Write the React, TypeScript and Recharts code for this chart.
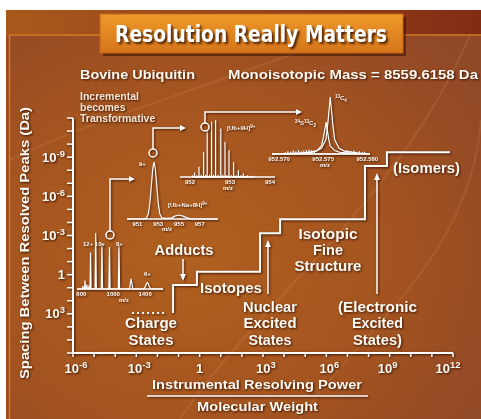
import React from 'react';
import { LineChart, Line, XAxis, YAxis } from 'recharts';

const FONT = '"Liberation Sans", Arial, Helvetica, sans-serif';
const INK = '#fffaf2';
const SHADOW = 'drop-shadow(1px 1.5px 1px rgba(45,12,0,0.85))';

// main plot, both axes in log10 exponents
const xTicks = [-6, -5, -4, -3, -2, -1, 0, 1, 2, 3, 4, 5, 6, 7, 8, 9, 10, 11, 12];
const yTicks = [-12, -11, -10, -9, -8, -7, -6, -5, -4, -3, -2, -1, 0, 1, 2, 3, 4, 5, 6];

// charge states (dotted) and the resolution staircase
const chargeX = [-3.2, -1.55];
const chargeY = [2.94, 2.94];
const stairX = [-1.26, -1.26, -0.13, -0.13, 2.86, 2.86, 3.81, 3.81, 7.83, 7.83, 8.87, 8.87, 11.86];
const stairY = [2.94, 0.79, 0.79, -0.23, -0.23, -3.17, -3.17, -4.24, -4.24, -8.32, -8.32, -9.37, -9.37];

// inset 1: charge state envelope, m/z 600-1400
const csMz = [545, 612, 620, 626, 640, 646, 652, 664, 670, 676, 690, 696, 702, 708, 715, 722, 772, 780, 788, 850, 858, 866, 945, 953, 961, 1064, 1072, 1080, 1205, 1215, 1225, 1235, 1245, 1385, 1405, 1418, 1428, 1438, 1451, 1470, 1625];
const csInt = [0, 0, 5, 0, 0, 15, 0, 0, 8, 0, 0, 6, 0, 0, 65, 0, 0, 100, 0, 0, 82, 0, 0, 75, 0, 0, 78, 0, 0, 10, 18, 10, 0, 0, 5, 10, 11, 10, 5, 0, 0];
const csTicks = [600, 1000, 1400];

// inset 2: 9+ ion at unit resolution
const hrMz = [950, 951.5, 951.85, 952.05, 952.2, 952.35, 952.48, 952.6, 952.72, 952.85, 953.0, 953.15, 953.35, 953.8, 954.3, 954.6, 955.0, 955.4, 955.8, 956.3, 958.75];
const hrInt = [0, 0, 1, 9, 28, 61, 89, 100, 89, 61, 28, 9, 2, 1, 2, 5, 7, 5, 2, 0, 0];
const hrTicks = [951, 953, 955, 957];

// inset 3: isotope distribution of [Ub+9H]9+
const isoMz = [952.115, 952.225, 952.34, 952.43, 952.54, 952.64, 952.77, 952.875, 952.975, 953.09, 953.21, 953.33, 953.44];
const isoInt = [8, 18, 44, 82, 97, 100, 85, 62, 47, 26, 12, 6, 3];
const isoGrassMz = [952.06, 952.17, 952.28, 952.39, 952.49, 952.59, 952.7, 952.82, 952.92, 953.03, 953.15, 953.27, 953.38, 953.5, 953.6];
const isoGrassInt = [3, 3, 4, 4, 4, 4, 4, 4, 3, 3, 3, 3, 2, 2, 2];
const isoTicks = [952, 953, 954];

// inset 4: isotopic fine structure
const fsMzA = [952.5692, 952.5728, 952.5742, 952.5748, 952.5753, 952.5755, 952.5758, 952.5761, 952.5763, 952.5768, 952.5774, 952.5788, 952.5803];
const fsIntA = [0, 2, 5, 10, 25, 50, 100, 50, 25, 10, 5, 2, 0];
const fsMzB = [952.5692, 952.5723, 952.5737, 952.5743, 952.5748, 952.575, 952.57534, 952.5756, 952.5758, 952.5763, 952.5769, 952.5783, 952.5803];
const fsIntB = [0, 1, 3, 6, 14, 28, 56, 28, 14, 6, 3, 1, 0];
const fsGrassMz = [952.5707, 952.571, 952.5713, 952.5716, 952.5719, 952.5722, 952.5725, 952.5728, 952.5731, 952.5734, 952.5737, 952.574, 952.5776, 952.5779, 952.5782, 952.5785, 952.5788, 952.5791, 952.5794, 952.5797];
const fsGrassInt = [3, 5, 4, 6, 5, 7, 5, 6, 7, 8, 7, 6, 7, 6, 5, 6, 4, 5, 3, 4];
const fsTicks = [952.57, 952.575, 952.58];

const zip = (xs: number[], ys: number[]) => xs.map((x, i) => ({ x, y: ys[i] }));
const sticks = (xs: number[], ys: number[]) =>
  xs.flatMap((x, i) => [{ x, y: 0 }, { x, y: ys[i] }, { x, y: 0 }]);

const pow = (v: number) =>
  v === 0 ? '1' : (
    <>
      10<tspan dy={-5} fontSize={9.5}>{v}</tspan>
    </>
  );

function XTick(props: any) {
  const { x, y, payload } = props;
  const v = payload.value;
  if (v % 3 !== 0) return null;
  const dx = v === 12 ? -5 : v === 9 ? -2 : v === 0 ? 0 : 3;
  return (
    <text x={x + dx} y={y + 14} textAnchor="middle" fill={INK} fontFamily={FONT} fontWeight="bold" fontSize={13}>
      {pow(v)}
    </text>
  );
}

function YTick(props: any) {
  const { x, y, payload } = props;
  const v = payload.value;
  if (v % 3 !== 0 || v === -12 || v === 6) return null;
  return (
    <text x={x} y={y + 4.5} textAnchor="end" fill={INK} fontFamily={FONT} fontWeight="bold" fontSize={13}>
      {pow(v)}
    </text>
  );
}

type InsetProps = {
  left: number;
  top: number;
  w: number;
  h: number;
  domain: [number, number];
  ticks: number[];
  fmt: (v: number) => string;
  series: { x: number; y: number }[][];
};

function Inset({ left, top, w, h, domain, ticks, fmt, series }: InsetProps) {
  const padL = 16, padR = 16, padT = 4, axisH = 16;
  return (
    <div style={{ position: 'absolute', left: left - padL, top: top - padT, filter: SHADOW }}>
      <LineChart width={w + padL + padR} height={h + padT + axisH} margin={{ top: padT, left: padL, right: padR, bottom: 0 }}>
        <XAxis
          type="number"
          dataKey="x"
          domain={domain}
          ticks={ticks}
          interval={0}
          height={axisH}
          axisLine={{ stroke: '#fff', strokeWidth: 1.4 }}
          tickLine={false}
          tickSize={0}
          tick={(p: any) => (
            <text x={p.x} y={p.y + 5} textAnchor="middle" fill={INK} fontFamily={FONT} fontWeight="bold" fontSize={6}>
              {fmt(p.payload.value)}
            </text>
          )}
        />
        <YAxis hide type="number" domain={[0, 100]} />
        {series.map((d, i) => (
          <Line key={i} data={d} dataKey="y" type="linear" stroke="#fff" strokeWidth={1.2} dot={false} isAnimationActive={false} />
        ))}
      </LineChart>
    </div>
  );
}

function Arrow({ d, tip, dir }: { d: string; tip: [number, number]; dir: 'r' | 'u' | 'd' }) {
  const [x, y] = tip;
  const pts =
    dir === 'r' ? `${x},${y} ${x - 6},${y - 3} ${x - 6},${y + 3}` :
    dir === 'u' ? `${x},${y} ${x - 3},${y + 7} ${x + 3},${y + 7}` :
    `${x},${y} ${x - 3},${y - 7} ${x + 3},${y - 7}`;
  return (
    <g>
      <path d={d} fill="none" stroke="#fff" strokeWidth={1.5} />
      <polygon points={pts} fill="#fff" />
    </g>
  );
}

function Lines({ x, ys, lines, size = 14, len }: { x: number; ys: number[]; lines: string[]; size?: number; len?: number[] }) {
  return (
    <>
      {lines.map((s, i) => (
        <text key={i} x={x} y={ys[i]} textAnchor="middle" fontSize={size} textLength={len ? len[i] : undefined} lengthAdjust="spacingAndGlyphs">
          {s}
        </text>
      ))}
    </>
  );
}

export default function App() {
  return (
    <div style={{ position: 'absolute', left: 0, top: 0, width: 481, height: 419, overflow: 'hidden', background: '#fff' }}>
      <svg width={481} height={419} style={{ position: 'absolute', left: 0, top: 0 }}>
        <defs>
          <radialGradient id="bg" cx="38%" cy="60%" r="75%">
            <stop offset="0%" stopColor="#b0601f" />
            <stop offset="55%" stopColor="#a4541f" />
            <stop offset="100%" stopColor="#914827" />
          </radialGradient>
          <linearGradient id="band" x1="0" y1="0" x2="1" y2="0">
            <stop offset="0%" stopColor="#a9581c" />
            <stop offset="60%" stopColor="#94401a" />
            <stop offset="100%" stopColor="#822c14" />
          </linearGradient>
          <linearGradient id="title" x1="0" y1="0" x2="0" y2="1">
            <stop offset="0%" stopColor="#ee9a2a" />
            <stop offset="100%" stopColor="#d5741a" />
          </linearGradient>
        </defs>
        <rect x={6} y={10} width={475} height={409} fill="url(#bg)" />
        <rect x={6} y={10} width={475} height={25} fill="url(#band)" />
        <rect x={6} y={35} width={4} height={384} fill="#9a4a1c" />
        <line x1={9.5} y1={35} x2={481} y2={35} stroke="#d67a2a" strokeWidth={1.5} />
        <line x1={9.5} y1={35} x2={9.5} y2={419} stroke="#d67a2a" strokeWidth={1.5} />
        <g fill="none" stroke="#f6c08a" strokeOpacity={0.12} strokeWidth={2}>
          <path d="M 300 419 C 360 330, 470 260, 481 120" />
          <path d="M 180 419 C 260 300, 400 200, 470 35" />
          <path d="M 10 160 C 90 120, 200 90, 330 40" />
        </g>
        <rect x={103} y={17} width={303} height={39} fill="rgba(50,15,0,0.55)" />
        <rect x={100} y={14} width={303} height={39} fill="url(#title)" stroke="#c2661a" strokeWidth={1} />
        <text
          x={251}
          y={42}
          fill="#fff"
          textAnchor="middle"
          fontFamily='"DejaVu Sans Condensed", "DejaVu Sans", sans-serif'
          fontWeight="bold"
          fontSize={23.5}
          textLength={272}
          lengthAdjust="spacingAndGlyphs"
          style={{ fontStretch: 'condensed', filter: 'drop-shadow(2px 2px 1px rgba(40,10,0,0.8))' }}
        >
          Resolution Really Matters
        </text>
      </svg>

      <div style={{ position: 'absolute', left: 0, top: 0, filter: SHADOW }}>
        <LineChart width={481} height={419} margin={{ top: 118, right: 28, bottom: 36, left: 33 }}>
          <XAxis
            type="number"
            dataKey="x"
            domain={[-6, 12]}
            ticks={xTicks}
            interval={0}
            height={30}
            axisLine={{ stroke: '#fff', strokeWidth: 2 }}
            tickLine={{ stroke: '#fff', strokeWidth: 1.5 }}
            tickSize={4}
            tick={(p: any) => <XTick {...p} />}
          />
          <YAxis
            type="number"
            dataKey="y"
            domain={[-12, 6]}
            reversed
            ticks={yTicks}
            interval={0}
            width={40}
            axisLine={{ stroke: '#fff', strokeWidth: 2 }}
            tickLine={{ stroke: '#fff', strokeWidth: 1.5 }}
            tickSize={6}
            tick={(p: any) => <YTick {...p} />}
          />
          <Line data={zip(chargeX, chargeY)} dataKey="y" type="linear" stroke="#fff" strokeWidth={2} strokeDasharray="2 3" dot={false} isAnimationActive={false} />
          <Line data={zip(stairX, stairY)} dataKey="y" type="linear" stroke="#fff" strokeWidth={2} dot={false} isAnimationActive={false} />
        </LineChart>
      </div>

      <Inset left={77} top={233} w={86} h={56} domain={[545, 1625]} ticks={csTicks} fmt={(v) => String(v)} series={[zip(csMz, csInt)]} />
      <Inset left={127} top={162} w={91} h={57} domain={[950, 958.75]} ticks={hrTicks} fmt={(v) => String(v)} series={[zip(hrMz, hrInt)]} />
      <Inset left={180} top={120} w={95} h={57} domain={[951.75, 954.125]} ticks={isoTicks} fmt={(v) => String(v)} series={[sticks(isoGrassMz, isoGrassInt), sticks(isoMz, isoInt)]} />
      <Inset left={272} top={97} w={98} h={57} domain={[952.5692, 952.5803]} ticks={fsTicks} fmt={(v) => v.toFixed(3)} series={[sticks(fsGrassMz, fsGrassInt), zip(fsMzB, fsIntB), zip(fsMzA, fsIntA)]} />

      <svg width={481} height={419} style={{ position: 'absolute', left: 0, top: 0, filter: SHADOW }}>
        <g fill={INK} fontFamily={FONT} fontWeight="bold">
          <text x={80} y={79} fontSize={13} textLength={115} lengthAdjust="spacingAndGlyphs">Bovine Ubiquitin</text>
          <text x={228} y={79} fontSize={13} textLength={250} lengthAdjust="spacingAndGlyphs">Monoisotopic Mass  = 8559.6158 Da</text>
          <g fill="#f6e6d6" fontSize={10.5}>
            <text x={80} y={100}>Incremental</text>
            <text x={80} y={111}>becomes</text>
            <text x={80} y={122}>Transformative</text>
          </g>
          <text x={29} y={243} fontSize={13} textAnchor="middle" transform="rotate(-90 29 243)" textLength={272} lengthAdjust="spacingAndGlyphs">
            Spacing Between Resolved Peaks (Da)
          </text>
          <text x={257} y={389} fontSize={13} textAnchor="middle" textLength={210} lengthAdjust="spacingAndGlyphs">Instrumental Resolving Power</text>
          <line x1={147} y1={396} x2={368} y2={396} stroke="#fff" strokeWidth={1.5} />
          <text x={257.5} y={411} fontSize={13} textAnchor="middle" textLength={121} lengthAdjust="spacingAndGlyphs">Molecular Weight</text>

          <Lines x={184} ys={[255]} lines={['Adducts']} len={[59]} />
          <Lines x={231} ys={[293]} lines={['Isotopes']} len={[62]} />
          <Lines x={270} ys={[312, 328, 345]} lines={['Nuclear', 'Excited', 'States']} len={[54, 53, 43]} />
          <Lines x={151} ys={[328, 345]} lines={['Charge', 'States']} len={[52, 45]} />
          <Lines x={377.5} ys={[312, 328, 345]} lines={['(Electronic', 'Excited', 'States)']} len={[79, 51, 49]} />
          <Lines x={328} ys={[239, 255, 271]} lines={['Isotopic', 'Fine', 'Structure']} len={[59, 30, 67]} />
          <Lines x={426.5} ys={[173]} lines={['(Isomers)']} len={[67]} />

          <g fontSize={6}>
            <text x={83} y={246}>12+ 10+</text>
            <text x={116} y={246}>8+</text>
            <text x={144} y={276}>6+</text>
            <text x={124} y={302} textAnchor="middle">m/z</text>
            <text x={139} y={166}>9+</text>
            <text x={168} y={207}>[Ub+Na+8H]<tspan dy={-2} fontSize={4.5}>9+</tspan></text>
            <text x={167} y={231} textAnchor="middle">m/z</text>
            <text x={227} y={130}>[Ub+9H]<tspan dy={-2} fontSize={4.5}>9+</tspan></text>
            <text x={228} y={190} textAnchor="middle">m/z</text>
            <text x={335} y={100}><tspan dy={-2} fontSize={4.5}>13</tspan><tspan dy={2}>C</tspan><tspan dy={1.5} fontSize={4.5}>4</tspan></text>
            <text x={295} y={125}><tspan dy={-2} fontSize={4.5}>34</tspan><tspan dy={2}>S</tspan><tspan dy={-2} fontSize={4.5}>13</tspan><tspan dy={2}>C</tspan><tspan dy={1.5} fontSize={4.5}>2</tspan></text>
            <text x={325} y={167} textAnchor="middle">m/z</text>
          </g>
        </g>

        <g fill="none" stroke="#fff" strokeWidth={1.5}>
          <circle cx={110} cy={235} r={4} />
          <circle cx={153} cy={153} r={4} />
          <circle cx={205} cy={127} r={4} />
        </g>
        <Arrow d="M110,231 V179 H130" tip={[135, 179]} dir="r" />
        <Arrow d="M153,149 V128 H181" tip={[186, 128]} dir="r" />
        <Arrow d="M205,123 V112 H297" tip={[302, 112]} dir="r" />
        <Arrow d="M183,259 V276" tip={[183, 281]} dir="d" />
        <Arrow d="M268,294 V246" tip={[268, 240]} dir="u" />
        <Arrow d="M377,294 V179" tip={[377, 173]} dir="u" />
      </svg>
    </div>
  );
}
